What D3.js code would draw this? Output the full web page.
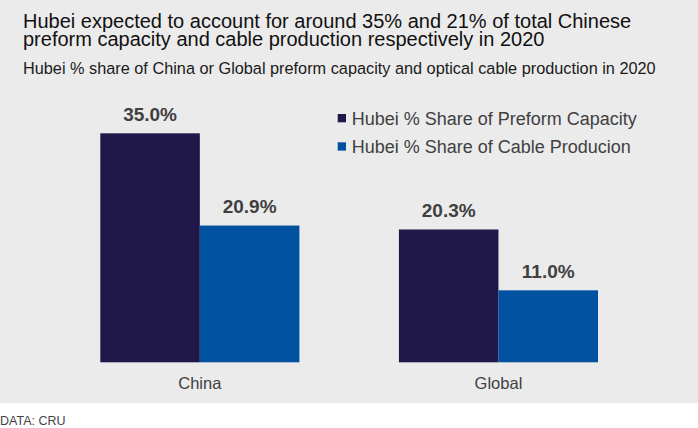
<!DOCTYPE html>
<html>
<head>
<meta charset="utf-8">
<script src="https://cdn.jsdelivr.net/npm/d3@7"></script>
<style>
  body{margin:0;background:#fff;}
  text{font-family:"Liberation Sans",Arial,sans-serif;}
</style>
</head>
<body>
<svg id="chart"></svg>
<script>
// data
var categories=["China","Global"]
var seriesNames=["Hubei % Share of Preform Capacity","Hubei % Share of Cable Producion"]
var preform=[35.0,20.3]
var cable=[20.9,11.0]

var screen={width:698,height:428}
var colors=["#21184a","#00519f"]

var svg=d3.select("#chart")
    .attr("width",screen.width)
    .attr("height",screen.height)

// grey panel
svg.append("rect")
    .attr("x",0).attr("y",0)
    .attr("width",screen.width).attr("height",403)
    .attr("fill","#ebebeb")

// titles
svg.append("text")
    .attr("x",23).attr("y",28)
    .attr("font-size","20px")
    .attr("fill","#111")
    .text("Hubei expected to account for around 35% and 21% of total Chinese")
svg.append("text")
    .attr("x",23).attr("y",46)
    .attr("font-size","20px")
    .attr("fill","#111")
    .text("preform capacity and cable production respectively in 2020")

svg.append("text")
    .attr("x",23).attr("y",74)
    .attr("font-size","16.3px")
    .attr("fill","#1a1a1a")
    .text("Hubei % share of China or Global preform capacity and optical cable production in 2020")

svg.append("text")
    .attr("x",0).attr("y",425)
    .attr("font-size","12.5px")
    .attr("fill","#444")
    .text("DATA: CRU")

// scales
var xScale=d3.scaleBand()
    .domain(categories)
    .range([100.3,598])
    .paddingInner(1/3)
    .paddingOuter(0)
var xSub=d3.scaleBand()
    .domain([0,1])
    .range([0,xScale.bandwidth()])
var yScale=d3.scaleLinear()
    .domain([0,35])
    .range([362.3,133.3])

var rows=categories.map(function(c,i){
    return {cat:c,values:[preform[i],cable[i]]}
})

var groups=svg.append("g")
    .selectAll("g")
    .data(rows)
    .enter()
    .append("g")
    .attr("transform",function(d){return "translate("+xScale(d.cat)+",0)"})

groups.selectAll("rect")
    .data(function(d){return d.values})
    .enter()
    .append("rect")
    .attr("x",function(v,i){return xSub(i)})
    .attr("width",xSub.bandwidth())
    .attr("y",function(v){return yScale(v)})
    .attr("height",function(v){return yScale(0)-yScale(v)})
    .attr("fill",function(v,i){return colors[i]})

groups.selectAll("text.val")
    .data(function(d){return d.values})
    .enter()
    .append("text")
    .classed("val",true)
    .attr("x",function(v,i){return xSub(i)+xSub.bandwidth()/2})
    .attr("y",function(v){return yScale(v)-12.3})
    .attr("text-anchor","middle")
    .attr("font-size","19px")
    .attr("font-weight","bold")
    .attr("fill","#404040")
    .text(function(v){return d3.format(".1f")(v)+"%"})

// category axis labels
groups.append("text")
    .attr("x",xScale.bandwidth()/2)
    .attr("y",388.7)
    .attr("text-anchor","middle")
    .attr("font-size","16.5px")
    .attr("fill","#404040")
    .text(function(d){return d.cat})

// legend
var legend=svg.append("g")
    .selectAll("g")
    .data(seriesNames)
    .enter()
    .append("g")
    .attr("transform",function(d,i){return "translate(337.7,"+(114+i*28.3)+")"})
legend.append("rect")
    .attr("width",8.3).attr("height",8.3)
    .attr("fill",function(d,i){return colors[i]})
legend.append("text")
    .attr("x",14)
    .attr("y",11)
    .attr("font-size","18px")
    .attr("fill","#404040")
    .text(function(d){return d})
</script>
</body>
</html>
